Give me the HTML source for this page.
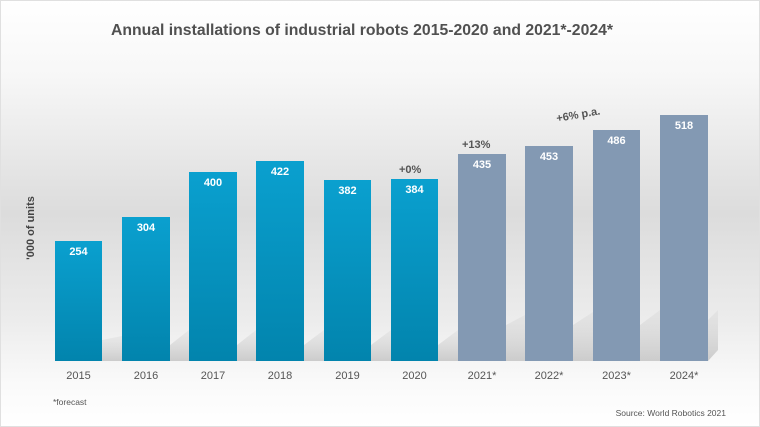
<!DOCTYPE html>
<html><head><meta charset="utf-8"><style>
html,body{margin:0;padding:0;width:760px;height:427px;overflow:hidden;background:#fff}
svg{display:block;font-family:"Liberation Sans",Arial,sans-serif}
</style></head><body>
<svg width="760" height="427" viewBox="0 0 760 427" xmlns="http://www.w3.org/2000/svg">
<defs>
<linearGradient id="bg" x1="0" y1="0" x2="0" y2="1">
<stop offset="0" stop-color="#ffffff"/>
<stop offset="0.18" stop-color="#f7f7f7"/>
<stop offset="0.5" stop-color="#dcdcdc"/>
<stop offset="0.75" stop-color="#ececec"/>
<stop offset="0.9" stop-color="#fafafa"/>
<stop offset="1" stop-color="#ffffff"/>
</linearGradient>
<linearGradient id="blue" x1="0" y1="0" x2="0" y2="1">
<stop offset="0" stop-color="#0aa0cf"/>
<stop offset="1" stop-color="#0284ad"/>
</linearGradient>
<linearGradient id="sh" x1="0" y1="0" x2="0" y2="1">
<stop offset="0" stop-color="#c8c8c8" stop-opacity="0.2"/>
<stop offset="1" stop-color="#b0b0b0" stop-opacity="0.6"/>
</linearGradient>
</defs>
<rect x="0" y="0" width="760" height="427" fill="url(#bg)"/>
<rect x="0.5" y="0.5" width="759" height="426" fill="none" stroke="#e0e0e0"/>
<text x="362" y="35" text-anchor="middle" font-size="16" font-weight="bold" fill="#505050" textLength="502" lengthAdjust="spacingAndGlyphs">Annual installations of industrial robots 2015-2020 and 2021*-2024*</text>
<text transform="translate(34,228) rotate(-90)" text-anchor="middle" font-size="11" font-weight="bold" fill="#444">'000 of units</text>
<g fill="url(#sh)">
<polygon points="102,361 102,340 122,336 122,361"/>
<polygon points="170,361 170,345 189,330 189,361"/>
<polygon points="237,361 237,345 256,330 256,361"/>
<polygon points="304,361 304,345 324,330 324,361"/>
<polygon points="371,361 371,345 391,330 391,361"/>
<polygon points="438,361 438,345 458,330 458,361"/>
<polygon points="506,361 506,325 525,315 525,361"/>
<polygon points="573,361 573,325 593,312 593,361"/>
<polygon points="640,361 640,325 660,310 660,361"/>
<polygon points="708,361 708,320 718,310 718,350 708,361"/>
</g>
<g fill="url(#blue)">
<rect x="55" y="241" width="47" height="120"/>
<rect x="122" y="217" width="48" height="144"/>
<rect x="189" y="172" width="48" height="189"/>
<rect x="256" y="161" width="48" height="200"/>
<rect x="324" y="180" width="47" height="181"/>
<rect x="391" y="179" width="47" height="182"/>
</g>
<g fill="#8399b3">
<rect x="458" y="154" width="48" height="207"/>
<rect x="525" y="146" width="48" height="215"/>
<rect x="593" y="130" width="47" height="231"/>
<rect x="660" y="115" width="48" height="246"/>
</g>
<g font-size="11" font-weight="bold" fill="#fff" text-anchor="middle">
<text x="78.5" y="255">254</text>
<text x="146" y="231">304</text>
<text x="213" y="186">400</text>
<text x="280" y="175">422</text>
<text x="347.5" y="194">382</text>
<text x="414.5" y="193">384</text>
<text x="482" y="168">435</text>
<text x="549" y="160">453</text>
<text x="616.5" y="144">486</text>
<text x="684" y="129">518</text>
</g>
<g font-size="11" font-weight="bold" fill="#555">
<text x="399" y="173">+0%</text>
<text x="462" y="148">+13%</text>
<text x="557" y="122" transform="rotate(-10 557 122)">+6% p.a.</text>
</g>
<g font-size="11" fill="#555" text-anchor="middle">
<text x="78.5" y="379">2015</text>
<text x="146" y="379">2016</text>
<text x="213" y="379">2017</text>
<text x="280" y="379">2018</text>
<text x="347.5" y="379">2019</text>
<text x="414.5" y="379">2020</text>
<text x="482" y="379">2021*</text>
<text x="549" y="379">2022*</text>
<text x="616.5" y="379">2023*</text>
<text x="684" y="379">2024*</text>
</g>
<text x="53" y="405" font-size="8.5" fill="#555">*forecast</text>
<text x="726" y="416" font-size="8.5" fill="#555" text-anchor="end">Source: World Robotics 2021</text>
</svg>
</body></html>
